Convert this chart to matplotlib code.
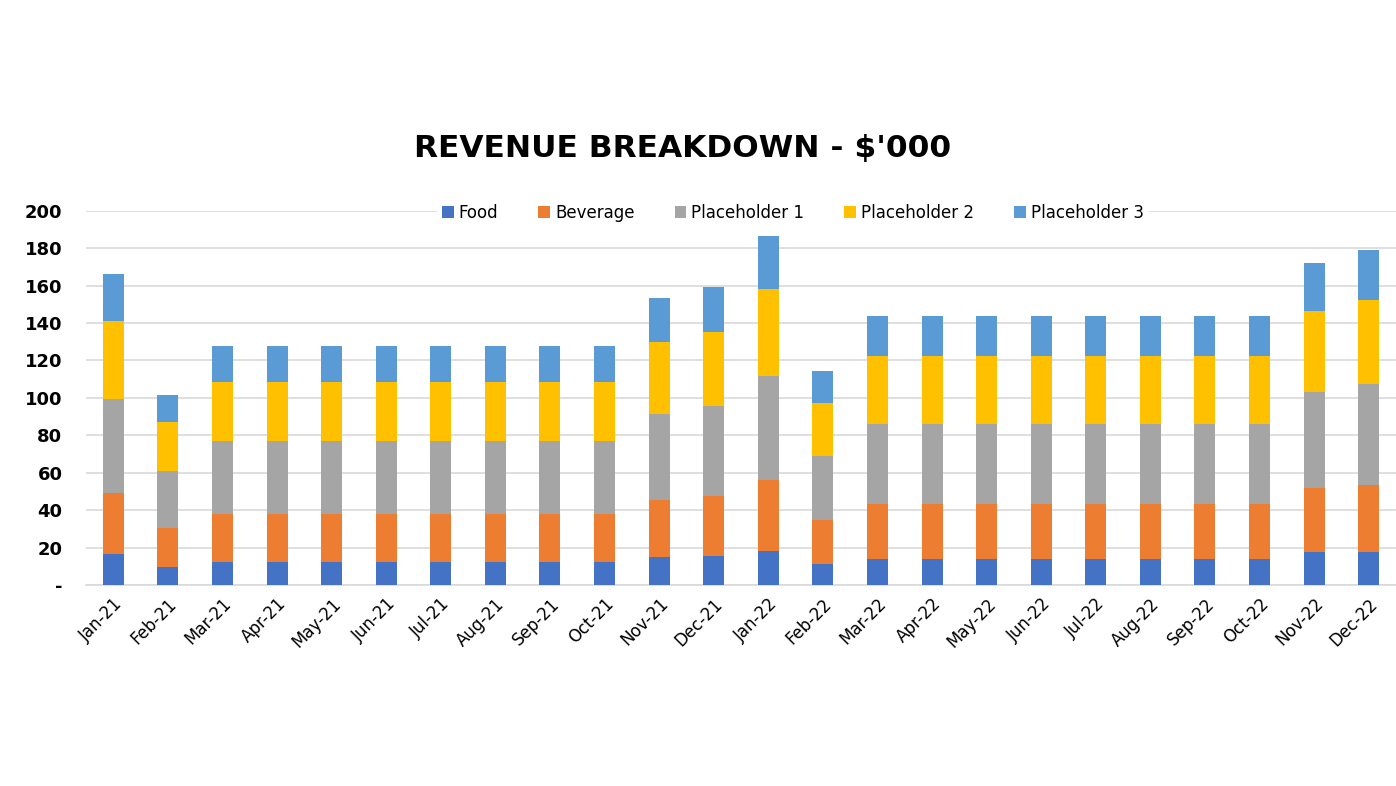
import numpy as np
import matplotlib.pyplot as plt

# data ($'000)
months = ["Jan-21", "Feb-21", "Mar-21", "Apr-21", "May-21", "Jun-21", "Jul-21", "Aug-21",
          "Sep-21", "Oct-21", "Nov-21", "Dec-21", "Jan-22", "Feb-22", "Mar-22", "Apr-22",
          "May-22", "Jun-22", "Jul-22", "Aug-22", "Sep-22", "Oct-22", "Nov-22", "Dec-22"]

food = [16.6, 9.6, 12.3, 12.3, 12.3, 12.3, 12.3, 12.3, 12.3, 12.3, 14.8, 15.7,
        18.3, 11.4, 14.1, 14.1, 14.1, 14.1, 14.1, 14.1, 14.1, 14.1, 17.5, 17.5]
beverage = [32.4, 20.7, 25.8, 25.8, 25.8, 25.8, 25.8, 25.8, 25.8, 25.8, 30.8, 31.9,
            37.8, 23.2, 29.3, 29.3, 29.3, 29.3, 29.3, 29.3, 29.3, 29.3, 34.5, 36.1]
placeholder1 = [50.2, 30.8, 38.7, 38.7, 38.7, 38.7, 38.7, 38.7, 38.7, 38.7, 45.8, 48.0,
                55.7, 34.5, 42.6, 42.6, 42.6, 42.6, 42.6, 42.6, 42.6, 42.6, 51.3, 54.0]
placeholder2 = [41.8, 26.0, 31.7, 31.7, 31.7, 31.7, 31.7, 31.7, 31.7, 31.7, 38.6, 39.6,
                46.5, 28.3, 36.4, 36.4, 36.4, 36.4, 36.4, 36.4, 36.4, 36.4, 42.9, 44.9]
placeholder3 = [25.0, 14.6, 19.0, 19.0, 19.0, 19.0, 19.0, 19.0, 19.0, 19.0, 23.2, 24.0,
                28.3, 17.1, 21.3, 21.3, 21.3, 21.3, 21.3, 21.3, 21.3, 21.3, 26.0, 26.5]

series = ["Food", "Beverage", "Placeholder 1", "Placeholder 2", "Placeholder 3"]
colors = ["#4472C4", "#ED7D31", "#A5A5A5", "#FFC000", "#5B9BD5"]

fig = plt.figure(figsize=(13.96, 7.86), dpi=100)
ax = fig.add_axes([0.0616, 0.2557, 0.9384, 0.4762])

x = np.arange(len(months))
bottom = np.zeros(len(months))
for name, vals, col in zip(series, [food, beverage, placeholder1, placeholder2, placeholder3], colors):
    ax.bar(x, vals, width=0.385, bottom=bottom, color=col, label=name, zorder=3)
    bottom += np.array(vals)

ax.set_xlim(-0.5, len(months) - 0.5)
ax.set_ylim(0, 200)
ax.set_yticks(np.arange(0, 201, 20))
ax.set_yticklabels(["-"] + [str(v) for v in range(20, 201, 20)], fontsize=13, fontweight="bold")
ax.set_xticks(x)
ax.set_xticklabels(months, rotation=45, ha="right", rotation_mode="anchor", fontsize=12)
ax.tick_params(axis="y", length=0, pad=17)
ax.tick_params(axis="x", length=0, pad=7)

ax.grid(axis="y", color="#d9d9d9", linewidth=1.2, zorder=0)
for s in ["top", "right", "left"]:
    ax.spines[s].set_visible(False)
ax.spines["bottom"].set_color("#d9d9d9")
ax.spines["bottom"].set_linewidth(1.2)

fig.text(0.489, 0.811, "REVENUE BREAKDOWN - $'000", ha="center", va="center",
         fontsize=22.5, fontweight="bold")

leg = fig.legend(loc="center", bbox_to_anchor=(0.568, 0.729), ncol=5, fontsize=12,
                 frameon=True, facecolor="white", edgecolor="none", framealpha=1,
                 handlelength=0.7, handleheight=0.7, handletextpad=0.3,
                 columnspacing=2.4, borderpad=0.3, borderaxespad=0)
leg.set_zorder(10)

fig.savefig("out.png", dpi=100)
